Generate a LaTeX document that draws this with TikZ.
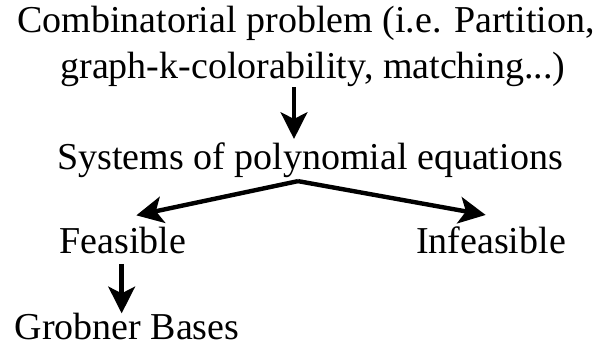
\documentclass[tikz,border=0pt]{standalone}
\usepackage{fontspec}
\setmainfont{Liberation Serif}
\usetikzlibrary{arrows.meta,positioning}
\tikzset{
  etape/.style={font=\fontsize{28.5}{36}\selectfont,inner sep=0pt,anchor=base},
  fleche/.style={-{Stealth[length=20pt,width=20pt,inset=5pt]},line width=3.3pt},
}
\begin{document}
\begin{tikzpicture}[x=0.75pt,y=-0.75pt]
  \useasboundingbox (0,0) rectangle (608,348);
  \node[etape] (pb) at (306,33) {Combinatorial problem (i.e. Partition,};
  \node[etape] (pbsuite) at (313,79) {graph-k-colorability, matching...)};
  \node[etape] (syst) at (310,170) {Systems of polynomial equations};
  \node[etape] (feas) at (123,254) {Feasible};
  \node[etape] (infeas) at (491,254) {Infeasible};
  \node[etape] (grob) at (127,340) {Grobner Bases};
  \coordinate (bout) at ([xshift=-12pt,yshift=3pt]syst.north);
  \draw[fleche] (pbsuite.south -| bout) -- (bout);
  \coordinate (depart) at ([xshift=-9pt,yshift=-2pt]syst.south);
  \draw[fleche] (depart) -- ([xshift=10pt,yshift=9pt]feas.north);
  \draw[fleche] (depart) -- ([xshift=-4pt,yshift=9pt]infeas.north);
  \draw[fleche] ([xshift=-1pt,yshift=-7pt]feas.south) -- ([xshift=-4pt]grob.north);
\end{tikzpicture}
\end{document}
